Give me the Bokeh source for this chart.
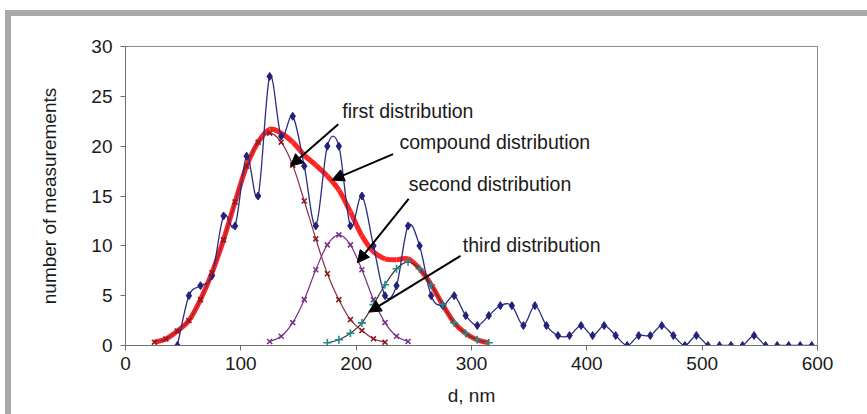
from bokeh.plotting import figure
from bokeh.layouts import column, row
from bokeh.models import Range1d, Arrow, NormalHead, Label, FixedTicker, Div, Spacer
from bokeh.embed import file_html
from bokeh.resources import INLINE

# ---- data ----
d_measured = [45, 55, 65, 75, 85, 95, 105, 115, 125, 135, 145, 155, 165, 175, 185, 195,
              205, 215, 225, 235, 245, 255, 265, 275, 285, 295, 305, 315, 325, 335, 345,
              355, 365, 375, 385, 395, 405, 415, 425, 435, 445, 455, 465, 475, 485, 495,
              505, 515, 525, 535, 545, 555, 565, 575, 585, 595]
n_measured = [0, 5, 6, 7, 13, 12, 19, 15, 27, 21, 23, 18, 12, 20, 20, 12,
              15, 10, 5, 6, 12, 10, 5, 4, 5, 3, 2, 3, 4, 4, 2,
              4, 2, 1, 1, 2, 1, 2, 1, 0, 1, 1, 2, 1, 0, 1,
              0, 0, 0, 0, 1, 0, 0, 0, 0, 0]

d_first = [25, 35, 45, 55, 65, 75, 85, 95, 105, 115, 125, 135, 145, 155, 165, 175, 185,
           195, 205, 215, 225]
n_first = [0.33, 0.65, 1.45, 2.5, 4.6, 7.3, 10.6, 14.4, 18.0, 20.4, 21.3, 20.4, 18.1,
           14.5, 10.7, 7.2, 4.6, 2.6, 1.5, 0.67, 0.33]

d_second = [125, 135, 145, 155, 165, 175, 185, 195, 205, 215, 225, 235, 245]
n_second = [0.4, 0.93, 2.3, 4.6, 7.6, 10.1, 11.1, 10.1, 7.6, 4.6, 2.3, 0.93, 0.4]

d_third = [175, 185, 195, 205, 215, 225, 235, 245, 255, 265, 275, 285, 295, 305, 315]
n_third = [0.27, 0.57, 1.23, 2.27, 4.1, 6.1, 7.7, 8.4, 7.7, 6.1, 4.1, 2.27, 1.2, 0.57, 0.27]

d_compound = [25, 35, 45, 55, 65, 75, 85, 95, 105, 115, 125, 135, 145, 155, 165, 175,
              185, 195, 205, 215, 225, 235, 245, 255, 265, 275, 285, 295, 305, 315]
n_compound = [0.33, 0.65, 1.45, 2.5, 4.6, 7.3, 10.6, 14.4, 18.0, 20.4, 21.7, 21.3, 20.4,
              19.1, 18.1, 17.0, 15.6, 13.4, 11.0, 9.4, 8.7, 8.6, 8.7, 7.7, 6.1, 4.1,
              2.3, 1.2, 0.57, 0.27]

x_ticks = [0, 100, 200, 300, 400, 500, 600]
y_ticks = [0, 5, 10, 15, 20, 25, 30]

FONT = "Liberation Sans"
GREY = "#a9a9ab"

# page geometry (pixels)
W, H = 867, 414
BAR_X0, BAR_W = 5, 6      # left grey bar
BAR_Y0, BAR_H = 10, 6     # top grey bar
OX, OY = BAR_X0 + BAR_W, BAR_Y0 + BAR_H   # figure origin on the page
FW, FH = W - OX, H - OY
FL, FR, FT, FB = 125 - OX, 817 - OX, 46 - OY, 345 - OY   # frame inside the figure


def smooth_segments(xs, ys):
    """Bezier control points (Excel-like smoothing) between consecutive data points."""
    n = len(xs)
    out = dict(x0=[], y0=[], x1=[], y1=[], cx0=[], cy0=[], cx1=[], cy1=[])
    for i in range(n - 1):
        xp, yp = (xs[i - 1], ys[i - 1]) if i > 0 else (xs[i], ys[i])
        xn, yn = (xs[i + 2], ys[i + 2]) if i + 2 < n else (xs[i + 1], ys[i + 1])
        out["x0"].append(xs[i]); out["y0"].append(ys[i])
        out["x1"].append(xs[i + 1]); out["y1"].append(ys[i + 1])
        out["cx0"].append(xs[i] + (xs[i + 1] - xp) / 6.0)
        out["cy0"].append(ys[i] + (ys[i + 1] - yp) / 6.0)
        out["cx1"].append(xs[i + 1] - (xn - xs[i]) / 6.0)
        out["cy1"].append(ys[i + 1] - (yn - ys[i]) / 6.0)
    return out


def smooth(fig, xs, ys, color, width):
    s = smooth_segments(xs, ys)
    fig.bezier(x0=s["x0"], y0=s["y0"], x1=s["x1"], y1=s["y1"], cx0=s["cx0"], cy0=s["cy0"],
               cx1=s["cx1"], cy1=s["cy1"], line_color=color, line_width=width)


p = figure(width=FW, height=FH, x_range=Range1d(0, 600), y_range=Range1d(0, 30),
           output_backend="svg", toolbar_location=None,
           min_border_left=FL, min_border_right=FW - FR, min_border_top=FT,
           min_border_bottom=FH - FB)
p.xgrid.visible = False
p.ygrid.visible = False
p.outline_line_color = "#8c8c8c"
p.outline_line_width = 1
p.background_fill_color = "white"
p.border_fill_color = "white"

for ax in (p.xaxis[0], p.yaxis[0]):
    ax.axis_line_color = "#6e6e6e"
    ax.major_tick_line_color = "#6e6e6e"
    ax.major_tick_out = 5
    ax.major_tick_in = 0
    ax.minor_tick_line_color = None
    ax.major_label_text_font = FONT
    ax.major_label_text_font_size = "19px"
    ax.major_label_text_color = "#1a1a1a"
    ax.axis_label_text_font = FONT
    ax.axis_label_text_font_size = "19px"
    ax.axis_label_text_font_style = "normal"
    ax.axis_label_text_color = "#1a1a1a"

p.xaxis.ticker = FixedTicker(ticks=x_ticks)
p.yaxis.ticker = FixedTicker(ticks=y_ticks)
p.xaxis.axis_label = "d, nm"
p.yaxis.axis_label = "number of measurements"
p.xaxis.major_label_standoff = 6
p.yaxis.major_label_standoff = 8
p.xaxis.axis_label_standoff = 12
p.yaxis.axis_label_standoff = 28

# compound (thick red, bottom)
smooth(p, d_compound, n_compound, "#ff2323", 5)

# measured data (navy)
smooth(p, d_measured, n_measured, "#2b2b80", 1.3)
p.scatter(d_measured, n_measured, marker="diamond", size=8, color="#22227a")

# first distribution (dark red)
smooth(p, d_first, n_first, "#8b2a4a", 1.2)
p.scatter(d_first, n_first, marker="x", size=7, line_color="#8b1a1a", line_width=1.6)

# second distribution (purple)
smooth(p, d_second, n_second, "#7a2f8a", 1.2)
p.scatter(d_second, n_second, marker="x", size=7, line_color="#7a2f8a", line_width=1.6)

# third distribution (dark grey line, teal crosses)
smooth(p, d_third, n_third, "#3c3c3c", 1.2)
p.scatter(d_third, n_third, marker="cross", size=8, line_color="#1f8a8a", line_width=1.6)

# annotations
labels = [
    ("first distribution", 188, 23.5, 184.5, 22.2, 143, 18.0),
    ("compound distribution", 237.5, 20.4, 232, 19.2, 179, 16.6),
    ("second distribution", 245.5, 16.2, 245.5, 14.7, 201, 8.3),
    ("third distribution", 292.5, 10.1, 290.5, 9.0, 211, 3.35),
]
for txt, lx, ly, xs_, ys_, xe, ye in labels:
    p.add_layout(Label(x=lx, y=ly, text=txt, text_font=FONT, text_font_size="19.5px",
                       text_color="#1a1a1a", text_baseline="middle", text_align="left"))
    p.add_layout(Arrow(end=NormalHead(size=12, fill_color="black", line_color="black"),
                       x_start=xs_, y_start=ys_, x_end=xe, y_end=ye,
                       line_color="black", line_width=2))

# grey frame bars of the original figure
top_bar = Div(text="", width=W - BAR_X0, height=BAR_H, margin=0,
              styles={"background-color": GREY})
left_bar = Div(text="", width=BAR_W, height=FH, margin=0,
               styles={"background-color": GREY})
layout = column(
    Spacer(width=W, height=BAR_Y0, margin=0),
    row(Spacer(width=BAR_X0, height=BAR_H, margin=0), top_bar, spacing=0),
    row(Spacer(width=BAR_X0, height=FH, margin=0), left_bar, p, spacing=0),
    spacing=0,
)

open("out.html", "w").write(file_html(layout, INLINE))
